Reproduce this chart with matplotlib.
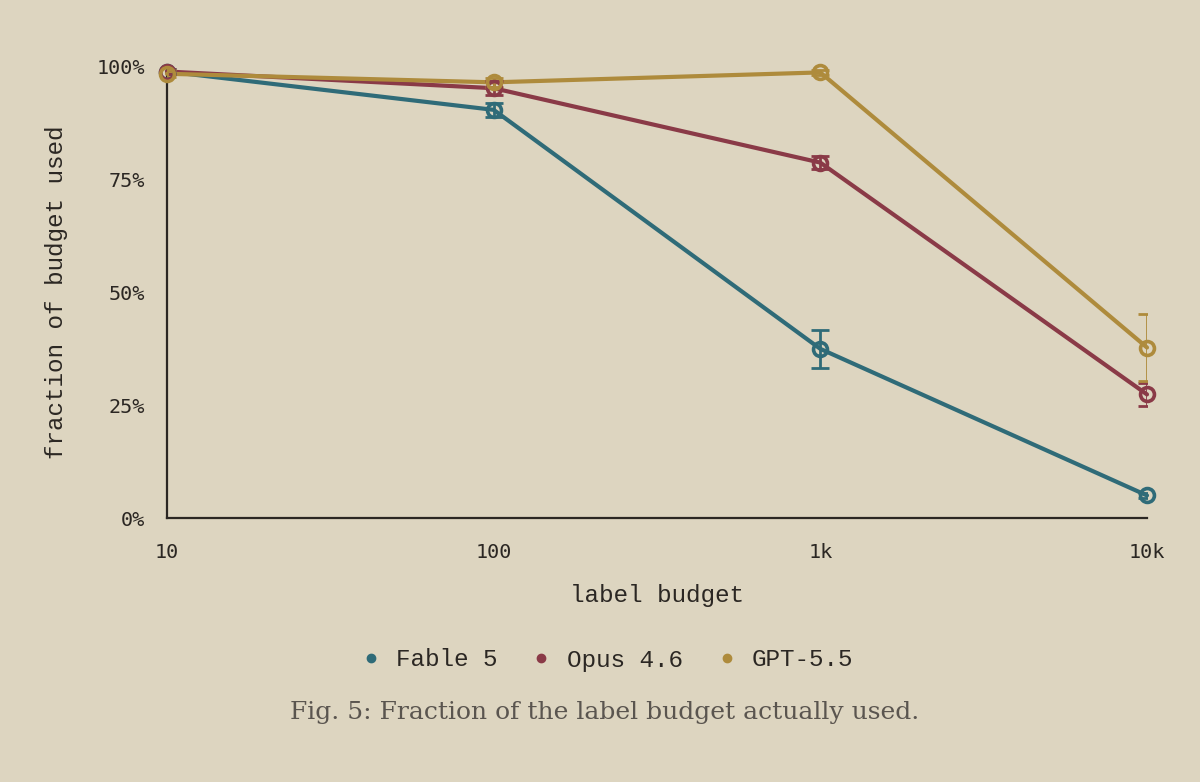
"""
Fig. 5: fraction of the label budget actually used, per model.
"""
import matplotlib
matplotlib.use("Agg")
import matplotlib.pyplot as plt
from matplotlib.lines import Line2D

budgets = [10, 100, 1000, 10000]
tick_labels = ["10", "100", "1k", "10k"]
models = ["Fable 5", "Opus 4.6", "GPT-5.5"]
colors = ["#2f6b78", "#8a3a47", "#ae8b3c"]

fable = [99.0, 90.5, 37.5, 5.0]
fable_err = [0.5, 1.5, 4.2, 0.5]
opus = [99.0, 95.3, 78.8, 27.4]
opus_err = [0.5, 1.5, 1.5, 2.6]
gpt = [98.5, 96.6, 98.8, 37.8]
gpt_err = [0.8, 1.0, 0.5, 7.5]

series = [fable, opus, gpt]
errors = [fable_err, opus_err, gpt_err]

BG = "#ddd5c0"
INK = "#2b2723"

fig = plt.figure(figsize=(12, 7.82), dpi=100, facecolor=BG)
ax = fig.add_axes([167 / 1200, 264 / 782, 980 / 1200, 451 / 782])
ax.set_facecolor(BG)

for vals, err, c in zip(series, errors, colors):
    ax.plot(budgets, vals, color=c, lw=3, zorder=3, clip_on=False,
            solid_joinstyle="round", solid_capstyle="round")
    ax.errorbar(budgets, vals, yerr=err, fmt="none", ecolor=c, elinewidth=2,
                capsize=6.5, capthick=2, zorder=4)
    ax.plot(budgets, vals, "o", ms=10, mfc="none", mec=c, mew=2.6, zorder=5, clip_on=False)

ax.set_xscale("log")
ax.set_xlim(10, 10000)
ax.set_ylim(0, 100)
ax.set_xticks(budgets)
ax.set_xticklabels(tick_labels)
ax.minorticks_off()
ax.set_yticks([0, 25, 50, 75, 100])
ax.set_yticklabels(["0%", "25%", "50%", "75%", "100%"])
ax.tick_params(axis="x", length=0, labelsize=14.5, colors=INK, pad=18)
ax.tick_params(axis="y", length=0, labelsize=14.5, colors=INK, pad=16)
for lab in ax.get_xticklabels() + ax.get_yticklabels():
    lab.set_family("DejaVu Sans Mono")

for side in ["top", "right"]:
    ax.spines[side].set_visible(False)
for side in ["left", "bottom"]:
    ax.spines[side].set_color(INK)
    ax.spines[side].set_linewidth(1.6)

ax.set_xlabel("label budget", family="Liberation Mono", fontsize=17.5, color=INK, labelpad=16)
ax.set_ylabel("fraction of budget used", family="Liberation Mono", fontsize=17.5, color=INK,
              labelpad=20)

handles = [Line2D([], [], ls="none", marker="o", ms=6, color=c) for c in colors]
fig.legend(handles, models, loc="center", bbox_to_anchor=(609 / 1200, 1 - 660 / 782),
           ncol=3, frameon=False, handlelength=0.5, handletextpad=0.8, columnspacing=1.55,
           prop={"family": "Liberation Mono", "size": 17.5}, labelcolor=INK)

fig.text(605 / 1200, 1 - 712 / 782, "Fig. 5: Fraction of the label budget actually used.",
         ha="center", va="center", family="DejaVu Serif", fontsize=18, color="#5a554f")

fig.savefig("out.png", dpi=100, facecolor=BG)
